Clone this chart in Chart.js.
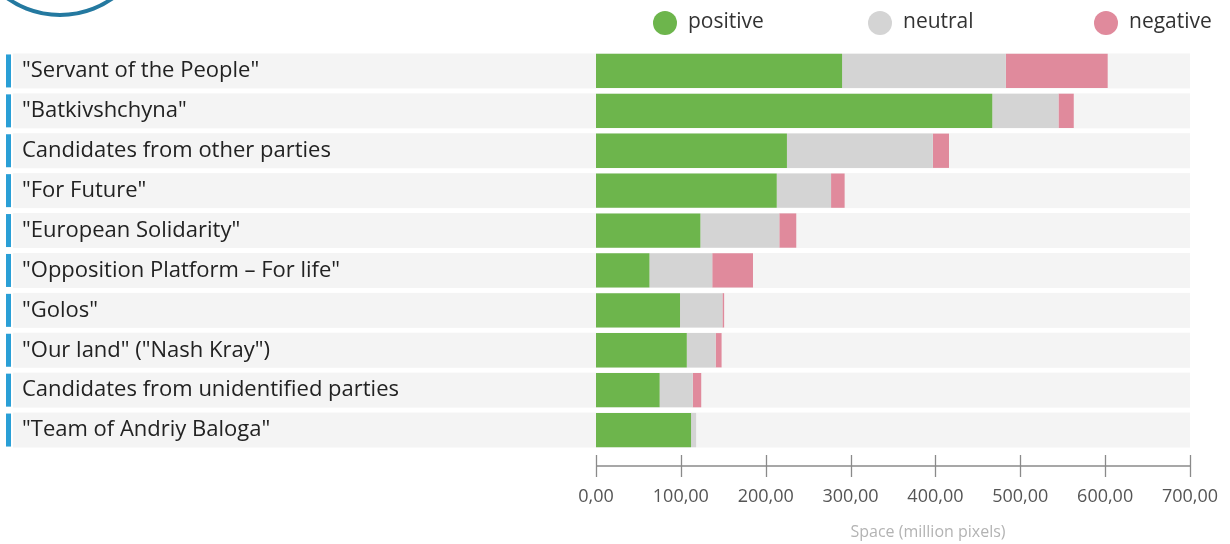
<!DOCTYPE html>
<html><head><meta charset="utf-8">
<script src="https://cdn.jsdelivr.net/npm/chart.js@4.4.0/dist/chart.umd.min.js"></script>
<style>html,body{margin:0;padding:0;background:#fff;}#wrap{width:1230px;height:544px;}</style>
</head><body><div id="wrap"><canvas id="c" width="1230" height="544"></canvas></div>
<script>
const categories = ['"Servant of the People"', '"Batkivshchyna"', 'Candidates from other parties', '"For Future"', '"European Solidarity"', '"Opposition Platform \u2013 For life"', '"Golos"', '"Our land" ("Nash Kray")', 'Candidates from unidentified parties', '"Team of Andriy Baloga"'];
const positive = [290, 467, 225, 213, 123, 63, 99, 107, 75, 112];
const neutral  = [193, 78, 172, 64, 93, 74, 50, 34, 39, 6];
const negative = [120, 18, 19, 16, 20, 48, 2, 7, 10, 0];
const seriesNames = ['positive', 'neutral', 'negative'];
const seriesColors = ['#6db54c', '#d4d4d4', '#e08a9c'];
const xMin = 0, xMax = 700, xStep = 100;
const axisTitle = 'Space (million pixels)';

const FONT = "'Open Sans', sans-serif";
Chart.defaults.font.family = FONT;

const decorPlugin = {
  id: 'decor',
  beforeDraw(chart) {
    const ctx = chart.ctx, y = chart.scales.y, x = chart.scales.x;
    const right = x.getPixelForValue(xMax);
    ctx.save();
    ctx.strokeStyle = '#2479a0'; ctx.lineWidth = 4;
    ctx.beginPath(); ctx.arc(60, -76, 91, 0, Math.PI); ctx.stroke();
    categories.forEach((c, i) => {
      const cy = y.getPixelForValue(i);
      ctx.fillStyle = '#f4f4f4';
      ctx.fillRect(13, cy - 17.5, right - 13, 35);
      ctx.fillStyle = '#2a9fd6';
      ctx.fillRect(6, cy - 16.5, 5, 33);
    });
    ctx.restore();
  },
  afterDraw(chart) {
    const ctx = chart.ctx, x = chart.scales.x;
    ctx.save();
    const ay = 466;
    ctx.strokeStyle = '#8a8a8a'; ctx.lineWidth = 1.3;
    ctx.beginPath();
    ctx.moveTo(x.getPixelForValue(xMin), ay); ctx.lineTo(x.getPixelForValue(xMax), ay);
    for (let v = xMin; v <= xMax; v += xStep) {
      const px = Math.round(x.getPixelForValue(v)) + 0.5;
      ctx.moveTo(px, ay - 11); ctx.lineTo(px, ay + 11);
    }
    ctx.stroke();
    ctx.fillStyle = '#b3b3b3'; ctx.font = '16px ' + FONT;
    ctx.textAlign = 'center'; ctx.textBaseline = 'middle';
    ctx.fillText(axisTitle, 928, 532);
    const lx = [665, 880, 1106];
    ctx.font = '21px ' + FONT; ctx.textAlign = 'left';
    seriesNames.forEach((n, i) => {
      ctx.fillStyle = seriesColors[i];
      ctx.beginPath(); ctx.arc(lx[i], 23, 12, 0, Math.PI * 2); ctx.fill();
      ctx.fillStyle = '#333';
      ctx.fillText(n, lx[i] + 23, 22);
    });
    ctx.restore();
  }
};

const datasets = [positive, neutral, negative].map((d, i) => ({
  label: seriesNames[i], data: d, backgroundColor: seriesColors[i],
  borderWidth: 0, barPercentage: 1, categoryPercentage: 0.86
}));

new Chart(document.getElementById('c'), {
  type: 'bar',
  data: { labels: categories, datasets },
  plugins: [decorPlugin],
  options: {
    responsive: false, animation: false, indexAxis: 'y',
    layout: { padding: { left: 22, top: 51, right: 40, bottom: 0 } },
    plugins: { legend: { display: false }, tooltip: { enabled: false } },
    scales: {
      x: {
        stacked: true, min: xMin, max: xMax,
        grid: { display: false, drawTicks: false }, border: { display: false },
        ticks: { stepSize: xStep, padding: 36, color: '#555', font: { size: 18 },
          callback: v => v.toFixed(2).replace('.', ',') },
        afterFit: s => { s.height = 94; s.paddingRight = 0; s.paddingLeft = 0; }
      },
      y: {
        stacked: true,
        grid: { display: false, drawTicks: false }, border: { display: false },
        ticks: { crossAlign: 'far', color: '#222', font: { size: 22 }, padding: 0 },
        afterFit: s => { s.width = 574; }
      }
    }
  }
});
</script></body></html>
